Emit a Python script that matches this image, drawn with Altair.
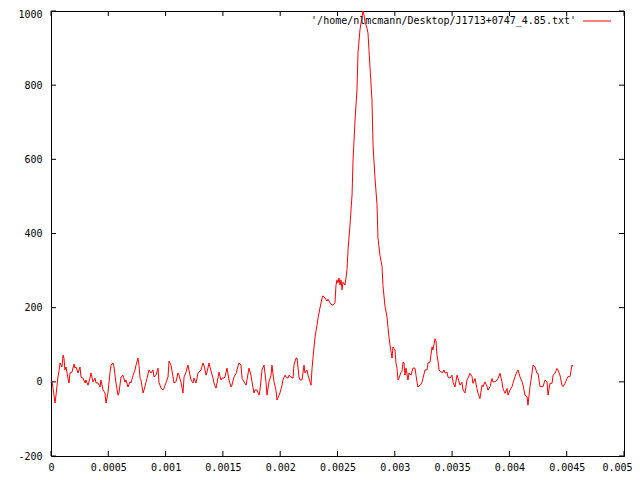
import altair as alt
import pandas as pd

# phase / time in microseconds, converted to seconds below
time_us = [0, 9, 17, 35, 44, 61, 70, 79, 87, 96, 105, 113, 122, 131, 148, 157, 166, 183, 201, 209,
           218, 236, 253, 262, 279, 297, 305, 323, 340, 349, 366, 384, 393, 410, 428, 436, 454, 471, 480, 497,
           515, 524, 541, 550, 567, 585, 593, 611, 628, 646, 654, 672, 689, 698, 716, 733, 742, 759, 768, 777,
           785, 803, 812, 829, 838, 855, 873, 890, 899, 916, 934, 942, 960, 977, 986, 1003, 1021, 1030, 1047, 1065,
           1073, 1091, 1108, 1117, 1134, 1152, 1161, 1178, 1195, 1204, 1222, 1239, 1248, 1265, 1283, 1291, 1309, 1326, 1335, 1353,
           1361, 1379, 1387, 1414, 1422, 1440, 1449, 1466, 1483, 1492, 1510, 1518, 1536, 1553, 1571, 1579, 1597, 1614, 1623, 1640,
           1658, 1667, 1684, 1702, 1710, 1728, 1745, 1754, 1771, 1780, 1798, 1815, 1824, 1841, 1859, 1876, 1885, 1902, 1920, 1928,
           1946, 1963, 1972, 1990, 1998, 2016, 2024, 2042, 2051, 2068, 2077, 2094, 2112, 2120, 2138, 2147, 2164, 2173, 2190, 2208,
           2216, 2234, 2243, 2260, 2269, 2278, 2286, 2304, 2321, 2330, 2347, 2365, 2373, 2391, 2408, 2417, 2435, 2452, 2461, 2478,
           2487, 2496, 2504, 2513, 2522, 2531, 2539, 2548, 2565, 2574, 2583, 2592, 2609, 2627, 2635, 2653, 2670, 2679, 2696, 2714,
           2723, 2731, 2740, 2749, 2757, 2766, 2775, 2784, 2801, 2810, 2827, 2845, 2853, 2871, 2888, 2897, 2914, 2932, 2941, 2949,
           2958, 2976, 2984, 3002, 3010, 3019, 3028, 3037, 3054, 3063, 3072, 3080, 3089, 3098, 3115, 3124, 3141, 3158, 3176, 3194,
           3202, 3220, 3229, 3237, 3246, 3264, 3281, 3290, 3307, 3325, 3333, 3351, 3360, 3368, 3377, 3386, 3403, 3421, 3429, 3438,
           3456, 3464, 3482, 3499, 3508, 3525, 3543, 3552, 3569, 3586, 3595, 3613, 3630, 3639, 3656, 3674, 3682, 3700, 3717, 3726,
           3743, 3761, 3770, 3787, 3805, 3813, 3831, 3848, 3857, 3874, 3892, 3901, 3918, 3935, 3944, 3962, 3979, 3988, 4005, 4023,
           4031, 4049, 4066, 4075, 4092, 4110, 4119, 4136, 4154, 4162, 4180, 4197, 4206, 4223, 4241, 4250, 4267, 4285, 4293, 4311,
           4328, 4337, 4354, 4372, 4381, 4398, 4415, 4424, 4441, 4459, 4468, 4485, 4503, 4511, 4529, 4546, 4555]

intensity = [-2, 2, -15, -57, -35, 13, 30, 51, 45, 40, 72, 64, 32, 40, 10, -3, 24, 26, 48, 37,
             40, 24, 40, 13, 10, -3, 5, -9, 10, 24, 0, 10, -3, -3, -14, 5, -22, -30, -57, -30,
             26, 45, 51, 40, -3, -36, -30, 13, 18, -1, 5, -14, 0, -3, 18, 32, 45, 64, 45, 10,
             5, -30, -22, -1, 10, 32, 24, 32, 13, 18, 37, -1, -17, -22, -17, -3, 13, 56, 45, 13,
             -3, 0, 24, 18, -1, -30, 13, 26, 45, 32, 5, -3, 10, -3, 24, 26, 32, 51, 45, 18,
             26, 51, 40, 10, -3, -17, -3, 26, 5, 10, 10, 13, 37, 5, -14, -9, 13, 22, 32, 51,
             45, 10, 0, -9, 5, 37, 18, 0, -30, -22, -22, -36, -22, 32, 45, 0, -36, 0, 18, 45,
             0, -22, -49, -36, -30, -9, 5, 18, 13, 10, 18, 13, 10, 45, 64, 64, 13, 5, 5, 45,
             24, 32, 18, 0, -9, 37, 64, 121, 153, 172, 199, 226, 232, 226, 218, 223, 213, 207, 207, 213,
             261, 275, 267, 280, 261, 275, 248, 269, 261, 280, 302, 356, 423, 504, 593, 706, 787, 887, 949, 986,
             1000, 989, 970, 962, 954, 941, 894, 846, 760, 639, 550, 477, 388, 340, 313, 259, 205, 175, 146, 121,
             100, 64, 94, 86, 51, 37, 5, 10, 26, 29, 53, 51, 18, 37, 5, 24, 18, 37, 37, -1,
             -14, -9, -7, -1, 10, 32, 32, 51, 53, 94, 86, 116, 110, 72, 56, 32, 26, 26, 32, 24,
             26, 13, 10, 18, -1, -14, 18, 10, -9, -1, -22, -30, 5, 10, 23, 14, -4, 9, -18, -31,
             -45, -9, -13, 0, -13, -22, -13, 9, 0, 0, 5, 9, 23, 0, -18, -31, -18, -36, -22, -13,
             -4, 14, 27, 32, 14, 0, -9, -36, -40, -63, -13, 23, 45, 41, 23, 23, -13, -13, -13, 5,
             0, -36, -4, -4, 18, 23, 36, 32, 18, -9, -13, -4, 9, 14, 14, 45, 41]

x_ticks = [0, 0.0005, 0.001, 0.0015, 0.002, 0.0025, 0.003, 0.0035, 0.004, 0.0045, 0.005]
y_ticks = [-200, 0, 200, 400, 600, 800, 1000]
legend_label = "'/home/nlmcmann/Desktop/J1713+0747_4.85.txt'"

W, H = 573, 445
FONT = "DejaVu Sans Mono"

df = pd.DataFrame({"t": [v / 1e6 for v in time_us], "v": intensity})
xt = pd.DataFrame({"t": x_ticks})
yt = pd.DataFrame({"v": y_ticks})

xs = alt.Scale(domain=[0, 0.005], nice=False, zero=False)
ys = alt.Scale(domain=[-200, 1000], nice=False, zero=False)

last_x = "datum.value >= 0.0049"
top_y = "datum.value >= 999"

line = alt.Chart(df).mark_line(color="#ff0000", strokeWidth=1, interpolate="linear").encode(
    x=alt.X("t:Q", scale=xs,
            axis=alt.Axis(values=x_ticks, title=None, ticks=False, domain=False, grid=False,
                          labelExpr="'' + datum.value", labelPadding=6, labelFont=FONT,
                          labelFontSize=10, labelColor="#000000", labelFlush=False,
                          labelAlign=alt.condition(last_x, alt.value("right"), alt.value("center")),
                          labelOffset=alt.condition(last_x, alt.value(8), alt.value(0)))),
    y=alt.Y("v:Q", scale=ys,
            axis=alt.Axis(values=y_ticks, title=None, ticks=False, domain=False, grid=False,
                          labelExpr="'' + datum.value", labelPadding=9, labelFont=FONT,
                          labelFontSize=10, labelColor="#000000", labelFlush=False,
                          labelOffset=alt.condition(top_y, alt.value(3), alt.value(0)))),
)

tick_style = dict(color="#000000", strokeWidth=1)
xb = alt.Chart(xt).mark_rule(**tick_style).encode(x=alt.X("t:Q", scale=xs), y=alt.value(H), y2=alt.value(H - 5))
xtop = alt.Chart(xt).mark_rule(**tick_style).encode(x=alt.X("t:Q", scale=xs), y=alt.value(0), y2=alt.value(5))
yl = alt.Chart(yt).mark_rule(**tick_style).encode(y=alt.Y("v:Q", scale=ys), x=alt.value(0), x2=alt.value(5))
yr = alt.Chart(yt).mark_rule(**tick_style).encode(y=alt.Y("v:Q", scale=ys), x=alt.value(W), x2=alt.value(W - 5))

leg_df = pd.DataFrame({"label": [legend_label]})
leg_text = alt.Chart(leg_df).mark_text(align="right", baseline="middle", font=FONT, fontSize=10,
                                        color="#000000").encode(
    text="label:N", x=alt.value(525), y=alt.value(10))
leg_line = alt.Chart(leg_df).mark_rule(color="#ff0000", strokeWidth=1).encode(
    x=alt.value(532), x2=alt.value(560), y=alt.value(10))

chart = alt.layer(xb, xtop, yl, yr, line, leg_text, leg_line).properties(
    width=W, height=H,
    autosize=alt.AutoSizeParams(type="none"),
    padding={"left": 43, "top": 3, "right": 8, "bottom": 15},
    background="#ffffff",
).configure_view(stroke="#000000", strokeWidth=1)

chart.save("out.html", embed_options={"renderer": "svg", "actions": False})
